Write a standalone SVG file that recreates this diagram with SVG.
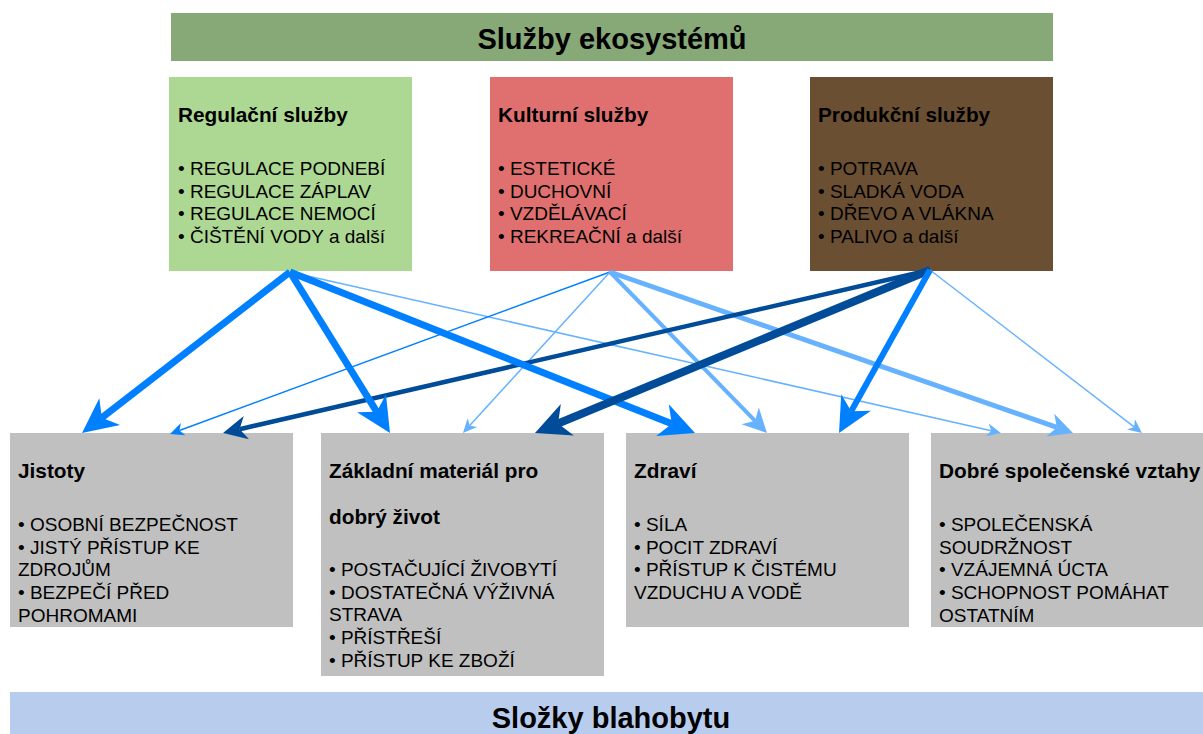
<svg xmlns="http://www.w3.org/2000/svg" width="1203" height="734" viewBox="0 0 1203 734">
<style>
text{font-family:"Liberation Sans",Arial,Helvetica,sans-serif;fill:#000}
.banner{font-size:29px;font-weight:bold;text-anchor:middle}
.ttl{font-size:20.8px;font-weight:bold}
.itm{font-size:19px}
.bright{stroke:#0080ff;fill:none}
.light{stroke:#66b2ff;fill:none}
.dark{stroke:#004c99;fill:none}
.gbox{fill:#c0c0c0}
</style>
<defs>
<marker id="bigBright" markerUnits="userSpaceOnUse" orient="auto" refX="10" refY="0" markerWidth="40" markerHeight="40" overflow="visible"><path d="M0,-17 L35,0 L0,17 L10,0 Z" fill="#0080ff"/></marker>
<marker id="bigDark" markerUnits="userSpaceOnUse" orient="auto" refX="10" refY="0" markerWidth="40" markerHeight="40" overflow="visible"><path d="M0,-17 L35,0 L0,17 L10,0 Z" fill="#004c99"/></marker>
<marker id="midLight" markerUnits="userSpaceOnUse" orient="auto" refX="7" refY="0" markerWidth="30" markerHeight="30" overflow="visible"><path d="M0,-12 L24,0 L0,12 L7,0 Z" fill="#66b2ff"/></marker>
<marker id="midDark" markerUnits="userSpaceOnUse" orient="auto" refX="7" refY="0" markerWidth="30" markerHeight="30" overflow="visible"><path d="M0,-12 L24,0 L0,12 L7,0 Z" fill="#004c99"/></marker>
<marker id="smallBright" markerUnits="userSpaceOnUse" orient="auto" refX="4" refY="0" markerWidth="20" markerHeight="20" overflow="visible"><path d="M0,-6.5 L14,0 L0,6.5 L4,0 Z" fill="#0080ff"/></marker>
<marker id="smallLight" markerUnits="userSpaceOnUse" orient="auto" refX="4" refY="0" markerWidth="20" markerHeight="20" overflow="visible"><path d="M0,-6.5 L14,0 L0,6.5 L4,0 Z" fill="#66b2ff"/></marker>
</defs>
<rect width="1203" height="734" fill="#ffffff"/>

<g id="sluzby-ekosystemu">
<rect x="171" y="13" width="882" height="48" fill="#87a877"/>
<text class="banner" x="612" y="49">Služby ekosystémů</text>
</g>

<g id="regulacni">
<rect x="169" y="77" width="243" height="194" fill="#acd893"/>
<text class="ttl" x="178" y="122">Regulační služby</text>
<text class="itm" x="178" y="175">• REGULACE PODNEBÍ</text>
<text class="itm" x="178" y="197.7">• REGULACE ZÁPLAV</text>
<text class="itm" x="178" y="220.4">• REGULACE NEMOCÍ</text>
<text class="itm" x="178" y="243">• ČIŠTĚNÍ VODY a další</text>
</g>

<g id="kulturni">
<rect x="490" y="77" width="243" height="194" fill="#e07070"/>
<text class="ttl" x="498" y="122">Kulturní služby</text>
<text class="itm" x="498" y="175">• ESTETICKÉ</text>
<text class="itm" x="498" y="197.7">• DUCHOVNÍ</text>
<text class="itm" x="498" y="220.4">• VZDĚLÁVACÍ</text>
<text class="itm" x="498" y="243">• REKREAČNÍ a další</text>
</g>

<g id="produkcni">
<rect x="810" y="77" width="243" height="194" fill="#6b4f33"/>
<text class="ttl" x="818" y="122">Produkční služby</text>
<text class="itm" x="818" y="175">• POTRAVA</text>
<text class="itm" x="818" y="197.7">• SLADKÁ VODA</text>
<text class="itm" x="818" y="220.4">• DŘEVO A VLÁKNA</text>
<text class="itm" x="818" y="243">• PALIVO a další</text>
</g>

<g id="jistoty">
<rect class="gbox" x="10" y="433" width="283" height="194"/>
<text class="ttl" x="18" y="478">Jistoty</text>
<text class="itm" x="18" y="531">• OSOBNÍ BEZPEČNOST</text>
<text class="itm" x="18" y="553.7">• JISTÝ PŘÍSTUP KE</text>
<text class="itm" x="18" y="576.4">ZDROJŮM</text>
<text class="itm" x="18" y="599.1">• BEZPEČÍ PŘED</text>
<text class="itm" x="18" y="621.8">POHROMAMI</text>
</g>

<g id="zakladni-material">
<rect class="gbox" x="321" y="433" width="283" height="243"/>
<text class="ttl" x="329" y="478">Základní materiál pro</text>
<text class="ttl" x="329" y="524">dobrý život</text>
<text class="itm" x="329" y="576">• POSTAČUJÍCÍ ŽIVOBYTÍ</text>
<text class="itm" x="329" y="598.7">• DOSTATEČNÁ VÝŽIVNÁ</text>
<text class="itm" x="329" y="621.4">STRAVA</text>
<text class="itm" x="329" y="644.1">• PŘÍSTŘEŠÍ</text>
<text class="itm" x="329" y="666.8">• PŘÍSTUP KE ZBOŽÍ</text>
</g>

<g id="zdravi">
<rect class="gbox" x="626" y="433" width="283" height="194"/>
<text class="ttl" x="634" y="478">Zdraví</text>
<text class="itm" x="634" y="531">• SÍLA</text>
<text class="itm" x="634" y="553.7">• POCIT ZDRAVÍ</text>
<text class="itm" x="634" y="576.4">• PŘÍSTUP K ČISTÉMU</text>
<text class="itm" x="634" y="599.1">VZDUCHU A VODĚ</text>
</g>

<g id="dobre-vztahy">
<rect class="gbox" x="931" y="433" width="272" height="194"/>
<text class="ttl" x="939" y="478">Dobré společenské vztahy</text>
<text class="itm" x="939" y="531">• SPOLEČENSKÁ</text>
<text class="itm" x="939" y="553.7">SOUDRŽNOST</text>
<text class="itm" x="939" y="576.4">• VZÁJEMNÁ ÚCTA</text>
<text class="itm" x="939" y="599.1">• SCHOPNOST POMÁHAT</text>
<text class="itm" x="939" y="621.8">OSTATNÍM</text>
</g>

<g id="slozky-blahobytu">
<rect x="10" y="692" width="1193" height="42" fill="#b8cdee"/>
<text class="banner" x="611" y="728">Složky blahobytu</text>
</g>

<g id="connectors">
<line class="light" x1="290" y1="272" x2="991.2" y2="430.8" stroke-width="1.5" marker-end="url(#smallLight)"/>
<line class="bright" x1="610" y1="272" x2="179.4" y2="430.5" stroke-width="1.5" marker-end="url(#smallBright)"/>
<line class="light" x1="610" y1="272" x2="469.7" y2="425.6" stroke-width="1.5" marker-end="url(#smallLight)"/>
<line class="light" x1="930" y1="270" x2="1134.1" y2="426.9" stroke-width="1.5" marker-end="url(#smallLight)"/>
<line class="light" x1="610" y1="272" x2="755.1" y2="420.8" stroke-width="4" marker-end="url(#midLight)"/>
<line class="light" x1="610" y1="272" x2="1056.9" y2="427.4" stroke-width="5" marker-end="url(#midLight)"/>
<line class="dark" x1="930" y1="270" x2="239.6" y2="429.2" stroke-width="4.5" marker-end="url(#midDark)"/>
<line class="bright" x1="290" y1="272" x2="101.8" y2="417.7" stroke-width="7" marker-end="url(#bigBright)"/>
<line class="bright" x1="290" y1="272" x2="376.8" y2="411.8" stroke-width="7" marker-end="url(#bigBright)"/>
<line class="bright" x1="290" y1="272" x2="671.8" y2="423.8" stroke-width="7" marker-end="url(#bigBright)"/>
<line class="dark" x1="930" y1="270" x2="558.1" y2="423.5" stroke-width="8" marker-end="url(#bigDark)"/>
<line class="bright" x1="930" y1="270" x2="851.2" y2="411.2" stroke-width="6" marker-end="url(#bigBright)"/>
</g>
</svg>
